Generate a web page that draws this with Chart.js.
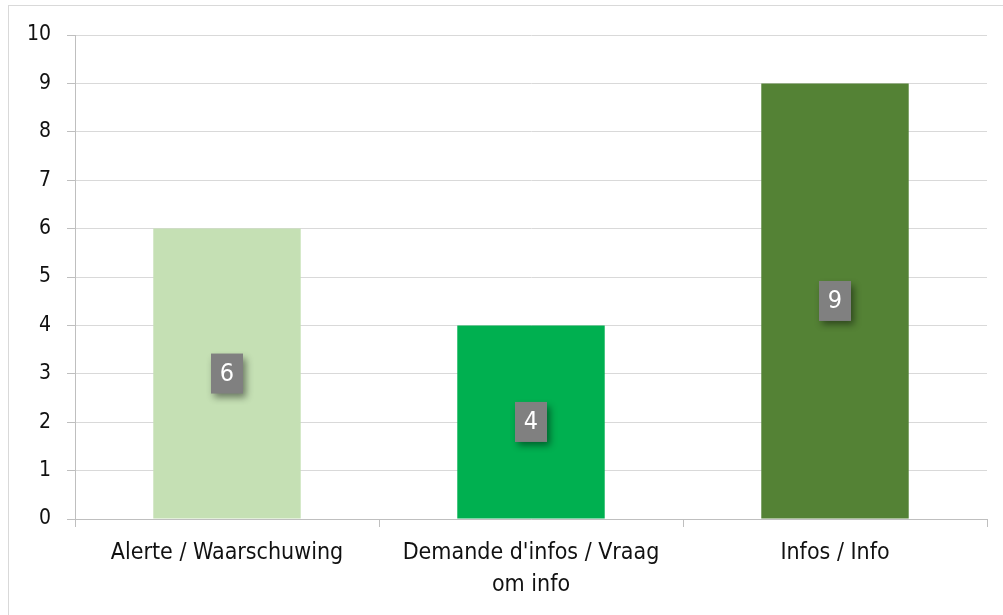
<!DOCTYPE html>
<html>
<head>
<meta charset="utf-8">
<script src="https://cdn.jsdelivr.net/npm/chart.js@4.4.0/dist/chart.umd.min.js"></script>
<style>
    html, body { margin: 0; padding: 0; background: #fff; overflow: hidden; }
    #frame { position: absolute; left: 8px; top: 5px; width: 1010px; height: 620px; border: 1px solid #d9d9d9; box-sizing: border-box; }
    #wrap { position: absolute; left: 0; top: 0; width: 1003px; height: 615px; }
</style>
</head>
<body>
<div id="frame"></div>
<div id="wrap"><canvas id="chart"></canvas></div>
<script>
    // Chart data
    const categories = [['Alerte / Waarschuwing'], ['Demande d\'infos / Vraag', 'om info'], ['Infos / Info']];
    const values = [6, 4, 9];
    const barColors = ['#c5e0b4', '#00b050', '#548235'];
    const yTicks = [0, 1, 2, 3, 4, 5, 6, 7, 8, 9, 10];

    const labelFont = '"DejaVu Sans Condensed", "Liberation Sans Narrow", sans-serif';

    // Grey value boxes in the middle of each bar
    const valueBoxes = {
        id: 'valueBoxes',
        afterDatasetsDraw(chart) {
            const ctx = chart.ctx;
            const meta = chart.getDatasetMeta(0);
            meta.data.forEach((bar, i) => {
                const cx = bar.x;
                const cy = (bar.y + bar.base) / 2;
                const w = 32, h = 40;
                ctx.save();
                ctx.shadowColor = 'rgba(0,0,0,0.45)';
                ctx.shadowBlur = 7;
                ctx.shadowOffsetX = 3;
                ctx.shadowOffsetY = 4;
                ctx.fillStyle = '#808080';
                ctx.fillRect(cx - w / 2, cy - h / 2, w, h);
                ctx.restore();
                ctx.save();
                ctx.fillStyle = '#ffffff';
                ctx.font = '25px ' + labelFont;
                ctx.textAlign = 'center';
                ctx.textBaseline = 'middle';
                ctx.fillText(String(values[i]), cx, cy + 1);
                ctx.restore();
            });
        }
    };

    new Chart(document.getElementById('chart').getContext('2d'), {
        type: 'bar',
        data: {
            labels: categories,
            datasets: [{
                data: values,
                backgroundColor: barColors,
                borderWidth: 0,
                categoryPercentage: 1,
                barPercentage: 0.485
            }]
        },
        options: {
            responsive: true,
            maintainAspectRatio: false,
            animation: false,
            devicePixelRatio: 1,
            layout: { padding: { left: 0, right: 16, top: 35, bottom: 0 } },
            plugins: {
                legend: { display: false },
                tooltip: { enabled: false }
            },
            scales: {
                x: {
                    offset: true,
                    grid: {
                        offset: true,
                        drawOnChartArea: false,
                        drawTicks: true,
                        tickLength: 8,
                        color: '#bfbfbf',
                        lineWidth: 1
                    },
                    border: { color: '#bfbfbf', width: 1 },
                    ticks: {
                        color: '#111111',
                        font: { family: labelFont, size: 23, lineHeight: 1.4 },
                        padding: 10,
                        maxRotation: 0,
                        autoSkip: false
                    },
                    afterFit(scale) { scale.height = 96; }
                },
                y: {
                    min: 0,
                    max: 10,
                    afterBuildTicks(scale) { scale.ticks = yTicks.map(v => ({ value: v })); },
                    grid: {
                        color: '#d9d9d9',
                        lineWidth: 1,
                        drawTicks: true,
                        tickLength: 8,
                        tickColor: '#bfbfbf'
                    },
                    border: { color: '#bfbfbf', width: 1 },
                    ticks: {
                        color: '#111111',
                        font: { family: labelFont, size: 21 },
                        padding: 16
                    },
                    afterFit(scale) { scale.width = 75; }
                }
            }
        },
        plugins: [valueBoxes]
    });
</script>
</body>
</html>
